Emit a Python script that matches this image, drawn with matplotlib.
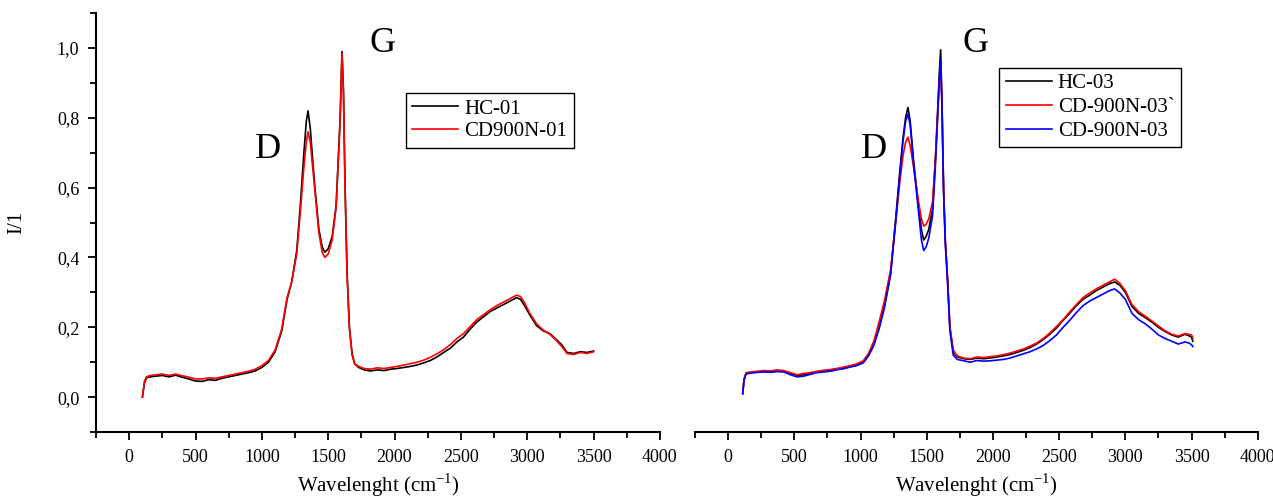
import matplotlib
matplotlib.use("Agg")
import matplotlib.pyplot as plt
from matplotlib.ticker import MultipleLocator, FuncFormatter

plt.rcParams["font.family"] = ["Liberation Serif", "DejaVu Serif"]
plt.rcParams["mathtext.fontset"] = "custom"
plt.rcParams["mathtext.rm"] = "Liberation Serif"

# Raman spectra, sample series 01
x_left = [100, 115, 130, 160, 200, 250, 300, 350, 400, 450,
          500, 550, 600, 650, 700, 750, 800, 850, 900, 950,
          1000, 1050, 1100, 1150, 1190, 1225, 1263, 1290, 1315, 1335,
          1348, 1365, 1385, 1400, 1430, 1455, 1475, 1500, 1530, 1560,
          1590, 1604, 1615, 1627, 1642, 1660, 1680, 1700, 1730, 1770,
          1820, 1870, 1920, 1970, 2020, 2070, 2120, 2170, 2220, 2270,
          2320, 2370, 2420, 2470, 2520, 2570, 2620, 2670, 2720, 2770,
          2820, 2870, 2920, 2950, 2980, 3020, 3070, 3120, 3170, 3220,
          3260, 3300, 3350, 3400, 3450, 3500]
hc01 = [0.00, 0.040, 0.055, 0.058, 0.060, 0.062, 0.058, 0.063, 0.057, 0.052,
        0.046, 0.045, 0.050, 0.048, 0.054, 0.058, 0.062, 0.066, 0.070, 0.075,
        0.085, 0.100, 0.130, 0.190, 0.280, 0.330, 0.420, 0.550, 0.690, 0.790,
        0.820, 0.770, 0.670, 0.600, 0.480, 0.430, 0.415, 0.425, 0.460, 0.550,
        0.800, 0.990, 0.880, 0.610, 0.360, 0.200, 0.125, 0.095, 0.085, 0.078,
        0.075, 0.078, 0.076, 0.080, 0.082, 0.085, 0.088, 0.092, 0.098, 0.105,
        0.115, 0.128, 0.140, 0.158, 0.172, 0.195, 0.215, 0.230, 0.245, 0.255,
        0.265, 0.275, 0.285, 0.280, 0.262, 0.235, 0.205, 0.190, 0.182, 0.165,
        0.150, 0.128, 0.125, 0.130, 0.128, 0.132]
cd900n01 = [0.00, 0.045, 0.058, 0.062, 0.064, 0.066, 0.062, 0.066, 0.061, 0.057,
            0.052, 0.052, 0.055, 0.054, 0.058, 0.062, 0.066, 0.070, 0.074, 0.080,
            0.090, 0.105, 0.135, 0.195, 0.285, 0.330, 0.410, 0.530, 0.650, 0.730,
            0.760, 0.730, 0.650, 0.590, 0.470, 0.415, 0.400, 0.410, 0.450, 0.545,
            0.790, 0.985, 0.870, 0.600, 0.350, 0.195, 0.120, 0.095, 0.088, 0.082,
            0.080, 0.084, 0.082, 0.085, 0.088, 0.092, 0.096, 0.100, 0.106, 0.114,
            0.124, 0.136, 0.150, 0.168, 0.182, 0.202, 0.222, 0.236, 0.250, 0.262,
            0.272, 0.282, 0.292, 0.288, 0.270, 0.240, 0.210, 0.192, 0.180, 0.162,
            0.145, 0.125, 0.122, 0.128, 0.125, 0.130]

# Raman spectra, sample series 03
x_right = [110, 120, 135, 170, 220, 270, 320, 370, 420, 470,
           520, 570, 620, 670, 720, 770, 820, 870, 920, 970,
           1020, 1060, 1100, 1140, 1180, 1227, 1265, 1295, 1320, 1340,
           1358, 1375, 1400, 1438, 1460, 1477, 1495, 1515, 1544, 1565,
           1581, 1595, 1605, 1615, 1627, 1640, 1657, 1675, 1700, 1730,
           1780, 1830, 1880, 1930, 1980, 2030, 2080, 2130, 2180, 2230,
           2280, 2330, 2380, 2430, 2480, 2530, 2580, 2630, 2680, 2730,
           2780, 2830, 2880, 2920, 2960, 3000, 3050, 3100, 3150, 3200,
           3250, 3300, 3350, 3400, 3450, 3480, 3500, 3510]
hc03 = [0.010, 0.050, 0.068, 0.070, 0.072, 0.074, 0.073, 0.075, 0.074, 0.068,
        0.062, 0.064, 0.068, 0.072, 0.074, 0.076, 0.080, 0.083, 0.088, 0.092,
        0.100, 0.120, 0.150, 0.200, 0.260, 0.355, 0.510, 0.640, 0.740, 0.800,
        0.830, 0.790, 0.680, 0.545, 0.480, 0.450, 0.460, 0.480, 0.540, 0.680,
        0.810, 0.930, 0.995, 0.850, 0.600, 0.450, 0.340, 0.200, 0.130, 0.115,
        0.110, 0.108, 0.112, 0.110, 0.112, 0.115, 0.118, 0.122, 0.128, 0.134,
        0.142, 0.152, 0.165, 0.180, 0.198, 0.220, 0.240, 0.262, 0.280, 0.292,
        0.305, 0.315, 0.325, 0.330, 0.320, 0.300, 0.260, 0.240, 0.228, 0.215,
        0.200, 0.188, 0.178, 0.172, 0.180, 0.176, 0.172, 0.160]
cd900n03b = [0.010, 0.052, 0.070, 0.072, 0.074, 0.076, 0.075, 0.078, 0.076, 0.070,
             0.064, 0.068, 0.070, 0.074, 0.077, 0.079, 0.082, 0.086, 0.090, 0.095,
             0.104, 0.125, 0.160, 0.215, 0.275, 0.365, 0.500, 0.610, 0.690, 0.730,
             0.745, 0.720, 0.660, 0.560, 0.510, 0.490, 0.495, 0.510, 0.560, 0.680,
             0.800, 0.910, 0.955, 0.840, 0.600, 0.450, 0.340, 0.200, 0.135, 0.118,
             0.112, 0.110, 0.115, 0.113, 0.116, 0.118, 0.122, 0.126, 0.132, 0.138,
             0.146, 0.155, 0.168, 0.184, 0.202, 0.222, 0.244, 0.265, 0.285, 0.298,
             0.310, 0.320, 0.330, 0.338, 0.325, 0.305, 0.265, 0.245, 0.232, 0.218,
             0.204, 0.190, 0.180, 0.175, 0.182, 0.180, 0.178, 0.170]
cd900n03 = [0.010, 0.048, 0.066, 0.069, 0.071, 0.072, 0.071, 0.073, 0.072, 0.064,
            0.058, 0.060, 0.065, 0.070, 0.072, 0.074, 0.078, 0.081, 0.086, 0.090,
            0.098, 0.118, 0.148, 0.195, 0.255, 0.350, 0.500, 0.630, 0.730, 0.790,
            0.810, 0.780, 0.670, 0.530, 0.450, 0.420, 0.430, 0.455, 0.520, 0.660,
            0.790, 0.910, 0.965, 0.830, 0.590, 0.440, 0.330, 0.190, 0.120, 0.108,
            0.104, 0.100, 0.105, 0.103, 0.104, 0.106, 0.108, 0.112, 0.118, 0.124,
            0.130, 0.138, 0.148, 0.162, 0.178, 0.200, 0.220, 0.242, 0.262, 0.275,
            0.285, 0.295, 0.305, 0.310, 0.298, 0.280, 0.240, 0.222, 0.210, 0.195,
            0.178, 0.168, 0.160, 0.152, 0.158, 0.155, 0.150, 0.145]


def comma(v, pos):
    return f"{v:.1f}".replace(".", ",")


def styleAxis(ax, showY):
    ax.set_xlim(-250, 4000)
    ax.set_ylim(-0.1, 1.1)
    ax.xaxis.set_major_locator(MultipleLocator(500))
    ax.xaxis.set_minor_locator(MultipleLocator(250))
    ax.yaxis.set_major_locator(MultipleLocator(0.2))
    ax.yaxis.set_minor_locator(MultipleLocator(0.1))
    ax.yaxis.set_major_formatter(FuncFormatter(comma))
    ax.spines["top"].set_visible(False)
    ax.spines["right"].set_visible(False)
    ax.spines["bottom"].set_linewidth(1.5)
    ax.spines["left"].set_linewidth(1.5)
    ax.tick_params(which="major", direction="out", length=6, width=1.3,
                   labelsize=13, pad=6)
    ax.tick_params(which="minor", direction="out", length=4, width=1.3)
    if not showY:
        ax.spines["left"].set_visible(False)
        ax.tick_params(axis="y", which="both", left=False, labelleft=False)
    ax.set_xlabel("Wavelenght (cm$^{\\mathregular{-1}}$)", fontsize=15, labelpad=4)


fig = plt.figure(figsize=(12.73, 5.01), dpi=100)
axL = fig.add_axes([0.0754, 0.1377, 0.443, 0.836])
axR = fig.add_axes([0.546, 0.1377, 0.442, 0.836])

axL.plot(x_left, hc01, color="black", lw=1.2, label="HC-01")
axL.plot(x_left, cd900n01, color="red", lw=1.2, label="CD900N-01")
styleAxis(axL, True)
axL.set_ylabel("I/1", fontsize=15, labelpad=22)
axL.text(1047, 0.708, "D", fontsize=26, ha="center", va="center")
axL.text(1913, 1.014, "G", fontsize=26, ha="center", va="center")
axL.legend(loc="upper left", bbox_to_anchor=(0.55, 0.81), fontsize=15,
           frameon=True, fancybox=False, edgecolor="black", framealpha=1,
           handlelength=2.2, labelspacing=0.15, borderpad=0.3, handletextpad=0.3,
           borderaxespad=0).get_frame().set_linewidth(1.0)

axR.plot(x_right, hc03, color="black", lw=1.2, label="HC-03")
axR.plot(x_right, cd900n03b, color="red", lw=1.2, label="CD-900N-03`")
axR.plot(x_right, cd900n03, color="blue", lw=1.2, label="CD-900N-03")
styleAxis(axR, False)
axR.text(1100, 0.708, "D", fontsize=26, ha="center", va="center")
axR.text(1867, 1.014, "G", fontsize=26, ha="center", va="center")
axR.legend(loc="upper left", bbox_to_anchor=(0.541, 0.87), fontsize=15,
           frameon=True, fancybox=False, edgecolor="black", framealpha=1,
           handlelength=2.2, labelspacing=0.2, borderpad=0.3, handletextpad=0.3,
           borderaxespad=0).get_frame().set_linewidth(1.0)

fig.savefig("out.png", dpi=100)
